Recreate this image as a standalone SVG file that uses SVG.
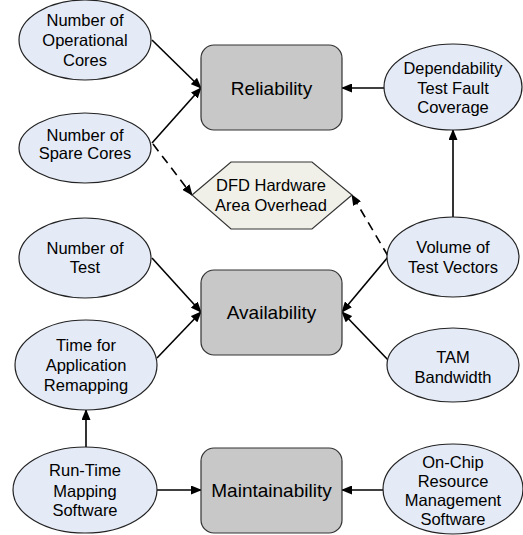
<svg xmlns="http://www.w3.org/2000/svg" width="523" height="535" viewBox="0 0 523 535">
<style>
.ell{fill:#e4eaf6;stroke:#222;stroke-width:1.2}
.box{fill:#c8c8c8;stroke:#333;stroke-width:1.2}
.hex{fill:#f0f0e8;stroke:#333;stroke-width:1.2}
text{font-family:"Liberation Sans",Arial,sans-serif;fill:#000;text-anchor:middle}
.t{font-size:16.5px}
.b{font-size:19px}
.c{stroke:#000;stroke-width:1.6;fill:none;marker-end:url(#ah)}
.d{stroke-dasharray:9,6}
</style>
<defs>
<marker id="ah" markerUnits="userSpaceOnUse" markerWidth="11" markerHeight="9" refX="10" refY="4.5" orient="auto">
<path d="M0,0 L11,4.5 L0,9 z" fill="#000"/>
</marker>
</defs>
<rect width="523" height="535" fill="#fff"/>
<g id="connectors">
<line class="c" x1="152" y1="40" x2="201" y2="88"/>
<line class="c" x1="152" y1="143" x2="201" y2="88"/>
<line class="c" x1="384" y1="88" x2="342" y2="88"/>
<line class="c" x1="453" y1="217" x2="453" y2="130"/>
<line class="c d" x1="153" y1="144" x2="192" y2="195"/>
<line class="c d" x1="388" y1="256" x2="352" y2="195"/>
<line class="c" x1="388" y1="257" x2="342" y2="312"/>
<line class="c" x1="390" y1="362" x2="342" y2="312"/>
<line class="c" x1="152" y1="258" x2="201" y2="312"/>
<line class="c" x1="157" y1="358" x2="201" y2="312"/>
<line class="c" x1="86" y1="448" x2="86" y2="410"/>
<line class="c" x1="157" y1="490" x2="201" y2="490"/>
<line class="c" x1="383" y1="490" x2="342" y2="490"/>
</g>
<g id="reliability">
<rect class="box" x="201" y="45" width="141" height="85" rx="13"/>
<text class="b" x="271.5" y="95">Reliability</text>
</g>
<g id="availability">
<rect class="box" x="201" y="270" width="141" height="85" rx="13"/>
<text class="b" x="271.5" y="319">Availability</text>
</g>
<g id="maintainability">
<rect class="box" x="201" y="448" width="141" height="85" rx="13"/>
<text class="b" x="271.5" y="497">Maintainability</text>
</g>
<g id="dfd">
<polygon class="hex" points="192,195 231,162 312,162 352,195 312,229 231,229"/>
<text class="t" x="271" y="191">DFD Hardware</text>
<text class="t" x="271" y="211">Area Overhead</text>
</g>
<g id="operational">
<ellipse class="ell" cx="85" cy="40" rx="66" ry="40"/>
<text class="t" x="85" y="26">Number of</text>
<text class="t" x="85" y="46">Operational</text>
<text class="t" x="85" y="66">Cores</text>
</g>
<g id="spare">
<ellipse class="ell" cx="85" cy="148" rx="66" ry="35"/>
<text class="t" x="85" y="141">Number of</text>
<text class="t" x="85" y="159">Spare Cores</text>
</g>
<g id="dependability">
<ellipse class="ell" cx="453" cy="87" rx="69" ry="43"/>
<text class="t" x="453" y="74" textLength="99" lengthAdjust="spacingAndGlyphs">Dependability</text>
<text class="t" x="453" y="93.5">Test Fault</text>
<text class="t" x="453" y="113">Coverage</text>
</g>
<g id="volume">
<ellipse class="ell" cx="453" cy="257" rx="66" ry="40"/>
<text class="t" x="453" y="253">Volume of</text>
<text class="t" x="453" y="273">Test Vectors</text>
</g>
<g id="numtest">
<ellipse class="ell" cx="85" cy="258" rx="66" ry="40"/>
<text class="t" x="85" y="254">Number of</text>
<text class="t" x="85" y="273">Test</text>
</g>
<g id="tam">
<ellipse class="ell" cx="453" cy="365" rx="66" ry="37"/>
<text class="t" x="453" y="363">TAM</text>
<text class="t" x="453" y="383">Bandwidth</text>
</g>
<g id="timeremap">
<ellipse class="ell" cx="86" cy="365" rx="71" ry="45"/>
<text class="t" x="86" y="351">Time for</text>
<text class="t" x="86" y="371">Application</text>
<text class="t" x="86" y="391">Remapping</text>
</g>
<g id="runtime">
<ellipse class="ell" cx="85" cy="490" rx="72" ry="43"/>
<text class="t" x="85" y="476">Run-Time</text>
<text class="t" x="85" y="497">Mapping</text>
<text class="t" x="85" y="516">Software</text>
</g>
<g id="onchip">
<ellipse class="ell" cx="453" cy="489" rx="70" ry="45"/>
<text class="t" x="453" y="468">On-Chip</text>
<text class="t" x="453" y="487">Resource</text>
<text class="t" x="453" y="506">Management</text>
<text class="t" x="453" y="525">Software</text>
</g>
</svg>
